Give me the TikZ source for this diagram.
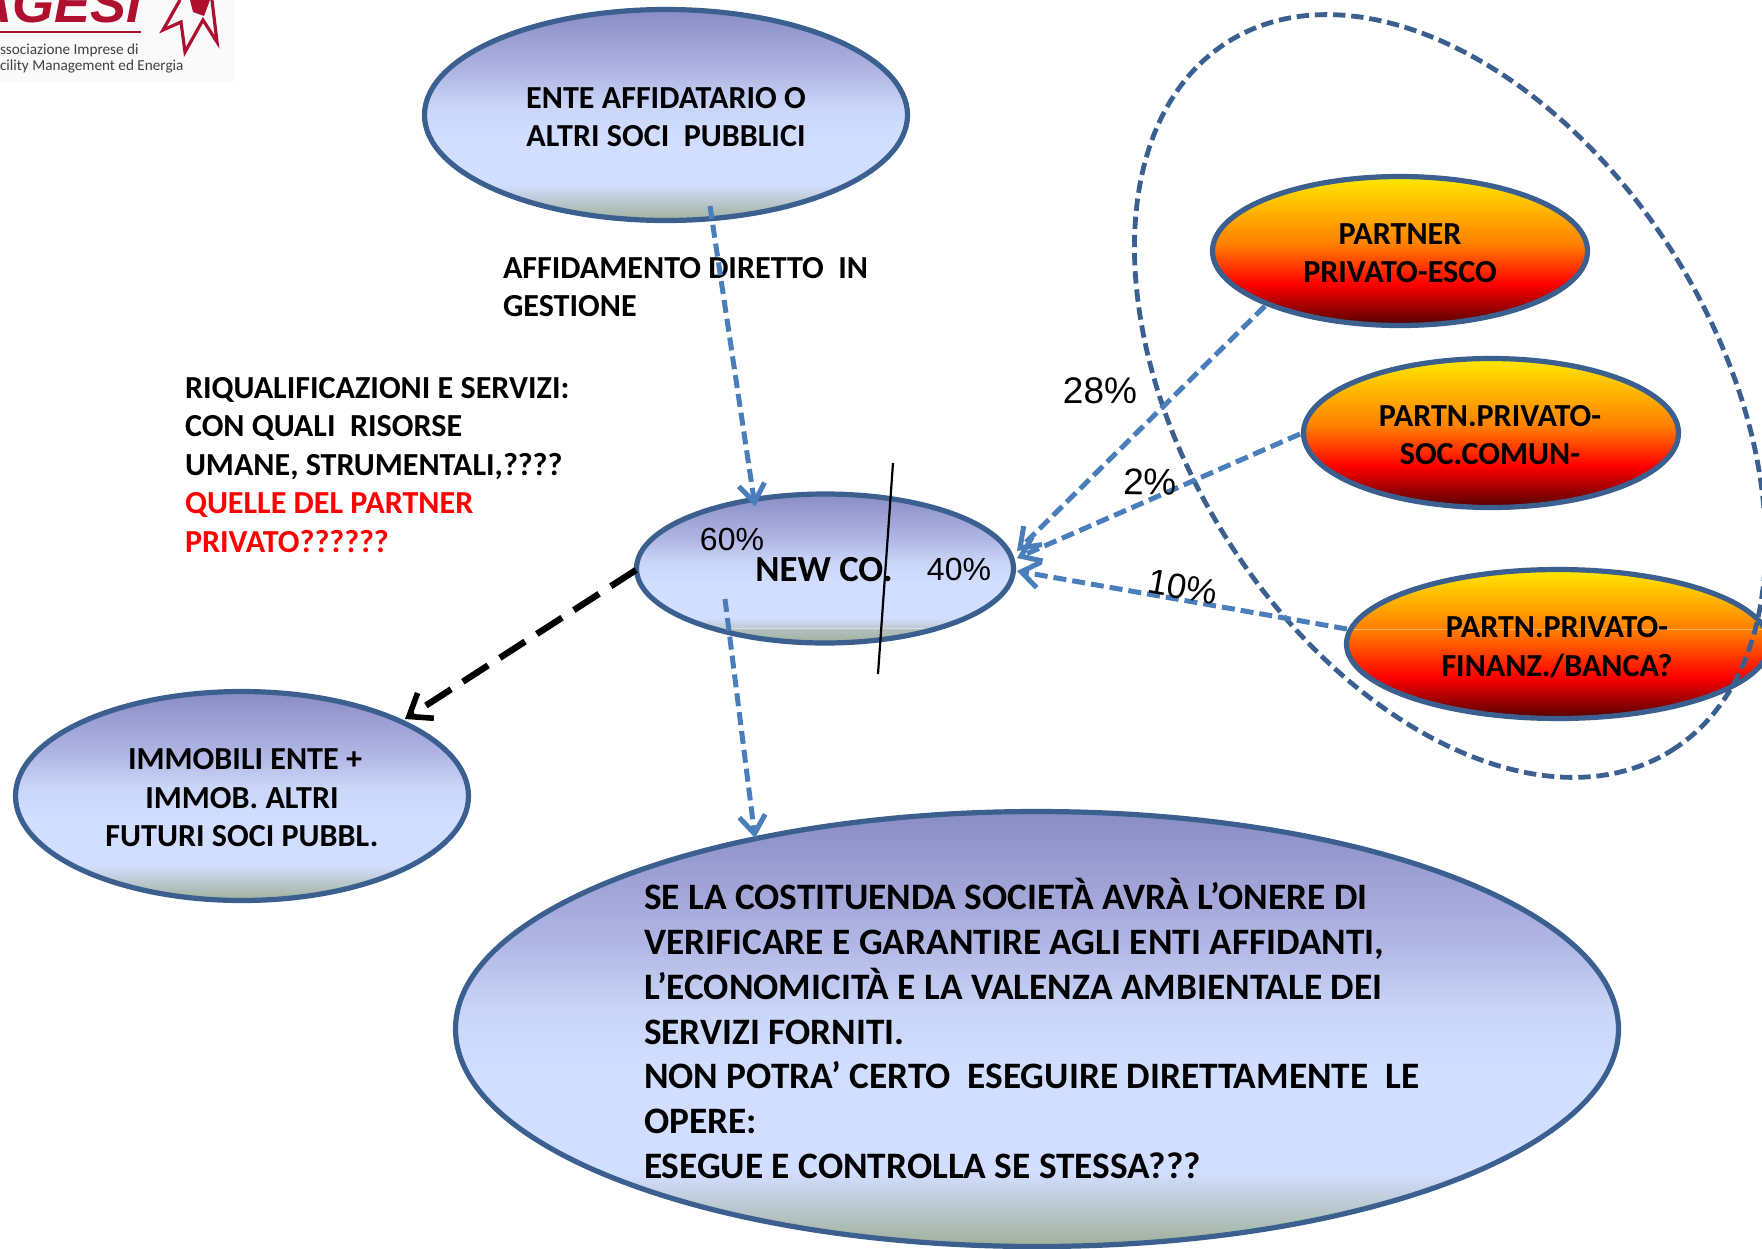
\documentclass[tikz,border=0pt]{standalone}
\usepackage{fontspec}
\setmainfont{Carlito}
\newfontfamily\arialf{Liberation Sans}
\usetikzlibrary{shapes.geometric,arrows.meta}
\definecolor{c1}{HTML}{A0AF9A}\definecolor{c2}{HTML}{B4C0C0}\definecolor{c3}{HTML}{DCE4EA}\definecolor{c4}{HTML}{BFCAD6}
\definecolor{c5}{HTML}{D2DEFF}\definecolor{c6}{HTML}{CAD6F8}\definecolor{c7}{HTML}{B0B6E4}\definecolor{c8}{HTML}{8A8CC4}
\definecolor{o1}{HTML}{FFE800}\definecolor{o2}{HTML}{FF8000}\definecolor{o3}{HTML}{FF0000}\definecolor{o4}{HTML}{500000}\definecolor{o5}{HTML}{FFC080}
\pgfdeclareverticalshading{palesh}{100bp}{
 color(0bp)=(c1);color(25bp)=(c1);color(33.5bp)=(c5);color(45bp)=(c5);color(52bp)=(c6);color(60bp)=(c7);color(75bp)=(c8);color(100bp)=(c8)}
\pgfdeclareverticalshading{palelinesh}{100bp}{
 color(0bp)=(c1);color(25bp)=(c1);color(29.75bp)=(c2);color(30bp)=(c3);color(30.25bp)=(c4);color(33.5bp)=(c5);color(45bp)=(c5);color(52bp)=(c6);color(60bp)=(c7);color(75bp)=(c8);color(100bp)=(c8)}
\pgfdeclareverticalshading{orsh}{100bp}{
 color(0bp)=(o4);color(25bp)=(o4);color(39bp)=(o3);color(52.5bp)=(o2);color(75bp)=(o1);color(100bp)=(o1)}
\pgfdeclareverticalshading{orlinesh}{100bp}{
 color(0bp)=(o4);color(25bp)=(o4);color(39bp)=(o3);color(54.8bp)=(o2);color(55bp)=(o5);color(55.2bp)=(o2);color(75bp)=(o1);color(100bp)=(o1)}
\definecolor{edgeblue}{HTML}{3B6090}
\definecolor{linkblue}{HTML}{4A7EBB}
\definecolor{agesired}{HTML}{B01030}
\tikzset{
 x=0.5pt,y=-0.5pt,
 blob/.style={ellipse,draw=edgeblue,line width=2.6pt,inner sep=0pt,outer sep=0pt},
 pale/.style={blob,shading=palesh},
 hot/.style={blob,shading=orsh},
 lab/.style={inner sep=0pt,outer sep=0pt,align=center,font=\fontsize{16.05pt}{19.25pt}\selectfont\bfseries},
 labl/.style={lab,align=left,anchor=west},
 bigtxt/.style={labl,font=\fontsize{18.66pt}{22.45pt}\selectfont\bfseries},
 pct/.style={inner sep=0pt,outer sep=0pt,font=\fontsize{18.5pt}{20pt}\selectfont\arialf},
 pctsm/.style={inner sep=0pt,outer sep=0pt,font=\fontsize{16pt}{18pt}\selectfont\arialf},
 link/.style={draw=linkblue,line width=2.5pt,dash pattern=on 6.5pt off 3pt,-{Straight Barb[length=9pt,width=13pt,line width=2.5pt]}},
 blacklink/.style={draw=black,line width=3.2pt,dash pattern=on 15pt off 7pt,-{Straight Barb[length=10pt,width=15pt,line width=2.8pt]}},
 logotxt/.style={inner sep=0pt,outer sep=0pt,anchor=west,text=black!75,font=\fontsize{7.6pt}{10pt}\selectfont},
}
\begin{document}
\begin{tikzpicture}
\useasboundingbox (0,0) rectangle (1762,1248);
\clip (0,0) rectangle (1762,1248);
% logo
\fill[black!2] (0,0) rectangle (235,82);
\node[inner sep=0pt,anchor=base west,text=agesired,font=\fontsize{27pt}{30pt}\selectfont\bfseries\itshape\arialf] (agesi) at (-27,22) {AGESI};
\fill[agesired] (0,30.5) rectangle (141,33);
\draw[agesired,line width=1.6pt,line join=miter] (180,0) -- (163,30) -- (181,22) -- (185,52) -- (203,20) -- (217,42) -- (212,0);
\fill[agesired] (190,0) -- (193,12) -- (204,16) -- (210,0) -- cycle;
\node[logotxt] (logo1) at (0,50) {ssociazione Imprese di};
\node[logotxt] (logo2) at (0,67) {cility Management ed Energia};
% ellipses
\node[pale,minimum width=241.5pt,minimum height=105.5pt] (ente) at (666,115) {};
\node[pale,shading=palelinesh,minimum width=188.5pt,minimum height=74.5pt] (newco) at (825,568.5) {};
\node[pale,minimum width=226.5pt,minimum height=104.5pt] (immob) at (242,796) {};
\node[pale,minimum width=581.5pt,minimum height=217.5pt] (big) at (1037,1029) {};
\node[hot,minimum width=187.5pt,minimum height=74.5pt] (esco) at (1400,251) {};
\node[hot,minimum width=187.5pt,minimum height=74.5pt] (soc) at (1491,433) {};
\node[hot,shading=orlinesh,minimum width=211.5pt,minimum height=74.5pt] (banca) at (1558,644) {};
% group
\node[ellipse,draw=edgeblue,line width=2.4pt,dash pattern=on 6.2pt off 2.9pt,inner sep=0pt,minimum width=418pt,minimum height=265pt,rotate=-58] (group) at (1450,396) {};
% text
\node[lab] (t1) at (666,117) {ENTE AFFIDATARIO O\\ALTRI SOCI\ \ PUBBLICI};
\node[lab] (t2) at (1400,253) {PARTNER\\PRIVATO-ESCO};
\node[lab] (t3) at (1490,435) {PARTN.PRIVATO-\\SOC.COMUN-};
\node[lab] (t4) at (1557,647) {PARTN.PRIVATO-\\FINANZ./BANCA?};
\node[lab] (t5) at (242,798) {\hspace*{3pt}IMMOBILI ENTE +\\IMMOB. ALTRI\\FUTURI SOCI PUBBL.};
\node[lab,font=\fontsize{18.4pt}{20pt}\selectfont\bfseries] (t6) at (824,570) {NEW CO.};
\node[labl] (t7) at (503,287) {AFFIDAMENTO DIRETTO\ \ IN\\GESTIONE};
\node[labl] (t8) at (185,465) {RIQUALIFICAZIONI E SERVIZI:\\CON QUALI\ \ RISORSE\\UMANE, STRUMENTALI,????\\\textcolor{red}{QUELLE DEL PARTNER}\\\textcolor{red}{PRIVATO??????}};
\node[bigtxt] (t9) at (644,1028.5) {SE LA COSTITUENDA SOCIET\`A AVR\`A L’ONERE DI\\VERIFICARE E GARANTIRE AGLI ENTI AFFIDANTI,\\L’ECONOMICIT\`A E LA VALENZA AMBIENTALE DEI\\SERVIZI FORNITI.\\NON POTRA’ CERTO\ \ ESEGUIRE DIRETTAMENTE\ \ LE\\OPERE:\\ESEGUE E CONTROLLA SE STESSA???};
% connectors
\draw[link] ([shift={(44,91)}]ente.center) -- ([shift={(-70,-62)}]newco.center);
\draw[link] ([shift={(-100,30.5)}]newco.center) -- ([shift={(-282,-191)}]big.center);
\draw[link] ([shift={(-135,55)}]esco.center) -- ([shift={(192,-17.5)}]newco.center);
\draw[link] ([shift={(-191,1)}]soc.center) -- ([shift={(192,-10.5)}]newco.center);
\draw[link] ([shift={(-211,-15)}]banca.center) -- ([shift={(192,2.5)}]newco.center);
\draw[blacklink] ([shift={(-189,1.5)}]newco.center) -- ([shift={(163,-77)}]immob.center);
\coordinate (slashtop) at (893,463);
\coordinate (slashbot) at (878,674);
\draw[black,line width=1.1pt] (slashtop) -- (slashbot);
% percent
\node[pctsm] (p60) at (732,539) {60\%};
\node[pctsm] (p40) at (959,569) {40\%};
\node[pct] (p28) at (1100,391) {28\%};
\node[pct,rotate=-1] (p2) at (1150,482) {2\%};
\node[pct,font=\fontsize{17.5pt}{20pt}\selectfont\arialf,rotate=-10] (p10) at (1183,587) {10\%};
\end{tikzpicture}
\end{document}
